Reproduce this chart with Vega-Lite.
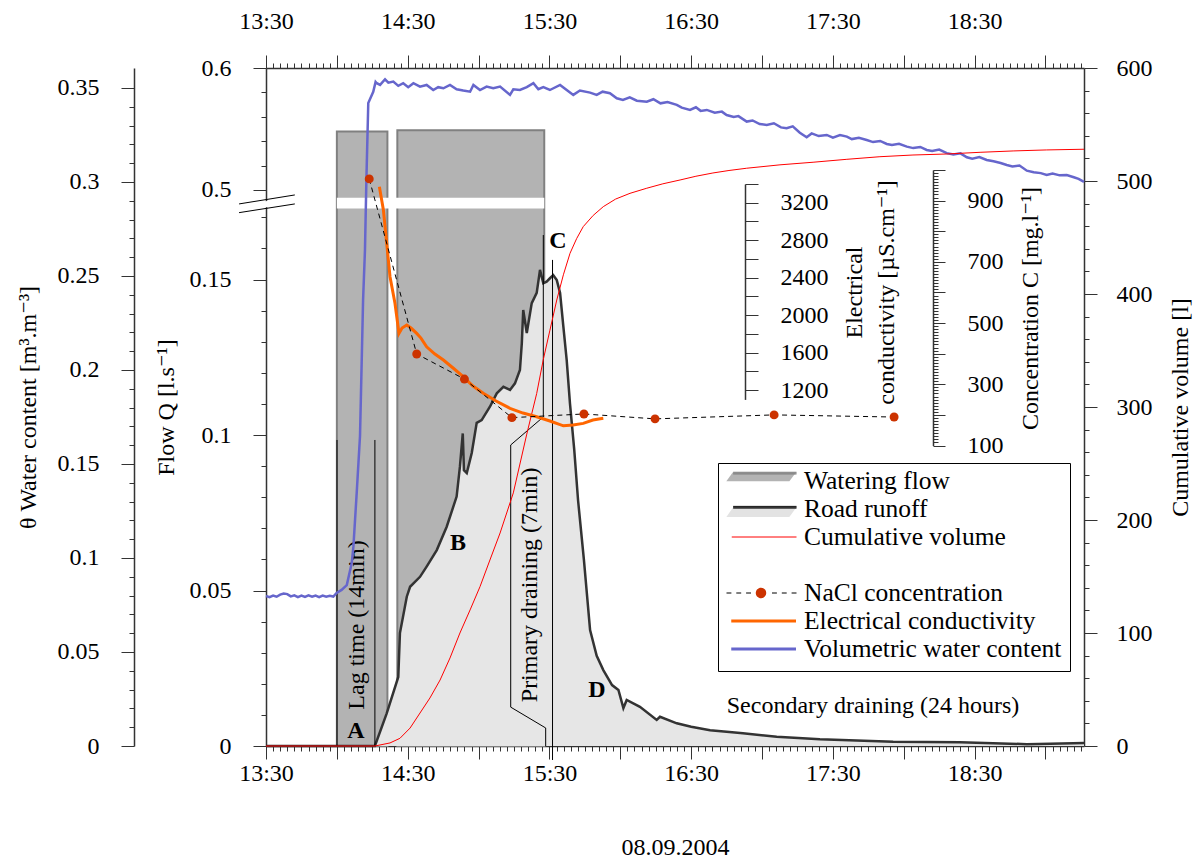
{
"$schema": "https://vega.github.io/schema/vega-lite/v6.json",
"width": 818, "height": 678,
"autosize": "none",
"padding": {"left": 266, "top": 68, "right": 116, "bottom": 115},
"background": "white",
"config": {
  "view": {"stroke": null},
  "axis": {"grid": false, "domainColor": "#333", "domainWidth": 1.5, "tickColor": "#333", "tickWidth": 1,
    "labelFont": "Liberation Serif, DejaVu Serif", "labelFontSize": 24, "labelColor": "#000",
    "titleFont": "Liberation Serif, DejaVu Serif", "titleFontSize": 24, "titleFontWeight": "normal", "titleColor": "#000",
    "labelOverlap": false, "labelFlush": false, "labelBound": false},
  "text": {"font": "Liberation Serif, DejaVu Serif", "fontSize": 24, "color": "#000"},
  "legend": {"labelFont": "Liberation Serif, DejaVu Serif", "labelFontSize": 25.5, "labelColor": "#000", "labelLimit": 0}
},
"resolve": {"scale": {"x": "independent", "y": "independent", "shape": "independent", "fill": "independent", "stroke": "independent"}},
"layer": [
{
  "encoding": {
    "x": {"field": "t", "type": "quantitative", "scale": {"domain": [0, 346.3], "nice": false, "zero": false},
      "axis": {"orient": "bottom",
        "values": [0,3,6,9,12,15,18,21,24,27,30,33,36,39,42,45,48,51,54,57,60,63,66,69,72,75,78,81,84,87,90,93,96,99,102,105,108,111,114,117,120,123,126,129,132,135,138,141,144,147,150,153,156,159,162,165,168,171,174,177,180,183,186,189,192,195,198,201,204,207,210,213,216,219,222,225,228,231,234,237,240,243,246,249,252,255,258,261,264,267,270,273,276,279,282,285,288,291,294,297,300,303,306,309,312,315,318,321,324,327,330,333,336,339,342,345],
        "tickSize": {"condition": {"test": "datum.value % 30 === 0", "value": 13}, "value": 5},
        "labelExpr": "datum.value % 60 === 0 ? ['13:30','14:30','15:30','16:30','17:30','18:30'][datum.value / 60] : ''",
        "labelPadding": 2, "title": "08.09.2004", "titlePadding": 50}},
    "y": {"field": "q", "type": "quantitative", "scale": {"domain": [0, 0.1746, 0.4893, 0.6], "range": [678, 135, 135, 0], "nice": false, "zero": false},
      "axis": {"orient": "left",
        "values": [0,0.01,0.02,0.03,0.04,0.05,0.06,0.07,0.08,0.09,0.1,0.11,0.12,0.13,0.14,0.15,0.16,0.17,0.5,0.52,0.54,0.56,0.58,0.6],
        "tickSize": {"condition": {"test": "indexof([0,0.05,0.1,0.15,0.5,0.6], datum.value) >= 0", "value": 13}, "value": 5},
        "labelExpr": "indexof([0,0.05,0.1,0.15,0.5,0.6], datum.value) >= 0 ? '' + datum.value : ''",
        "labelPadding": 22, "title": "Flow Q [l.s⁻¹]", "titleX": -100, "titleY": 339, "titleAngle": 270, "titleBaseline": "middle", "titleAlign": "center"}}
  },
  "layer": [
    {"data": {"values": [{"t": 30.0, "t2": 51.4, "q": 0.548, "q2": 0}, {"t": 55.6, "t2": 117.8, "q": 0.549, "q2": 0}]},
     "mark": {"type": "rect", "fill": "#b3b3b3", "stroke": "#808080", "strokeWidth": 2},
     "encoding": {"x2": {"field": "t2"}, "y2": {"field": "q2"}}},
    {"data": {"name": "runoff", "values": [
      {"t":0,"q":0},{"t":46.1,"q":0},{"t":51.1,"q":0.0105},{"t":56.0,"q":0.0222},{"t":56.7,"q":0.0363},{"t":59.6,"q":0.048},{"t":61.0,"q":0.0512},{"t":65.2,"q":0.0544},{"t":68.0,"q":0.0577},{"t":72.3,"q":0.063},{"t":76.5,"q":0.0705},{"t":80.7,"q":0.0802},{"t":82.1,"q":0.0898},{"t":83.3,"q":0.1005},{"t":83.8,"q":0.0887},{"t":85.0,"q":0.0878},{"t":87.1,"q":0.0942},{"t":89.2,"q":0.1039},{"t":91.3,"q":0.1048},{"t":94.8,"q":0.1091},{"t":97.7,"q":0.1134},{"t":100.5,"q":0.1155},{"t":103.3,"q":0.1145},{"t":105.4,"q":0.1166},{"t":107.5,"q":0.1209},{"t":108.3,"q":0.1295},{"t":108.9,"q":0.1402},{"t":110.4,"q":0.1328},{"t":112.5,"q":0.1424},{"t":114.6,"q":0.1457},{"t":116.0,"q":0.1531},{"t":117.4,"q":0.1488},{"t":118.8,"q":0.1493},{"t":120.2,"q":0.1504},{"t":121.6,"q":0.1514},{"t":123.1,"q":0.1498},{"t":124.5,"q":0.1457},{"t":125.9,"q":0.1348},{"t":127.3,"q":0.1241},{"t":128.7,"q":0.11},{"t":130.5,"q":0.0952},{"t":132.1,"q":0.0791},{"t":134.6,"q":0.0598},{"t":137.2,"q":0.0373},{"t":140.0,"q":0.029},{"t":142.8,"q":0.0244},{"t":146.5,"q":0.0196},{"t":149.2,"q":0.018},{"t":151.3,"q":0.0122},{"t":152.7,"q":0.0148},{"t":158.3,"q":0.0126},{"t":165.4,"q":0.0084},{"t":166.8,"q":0.0094},{"t":173.9,"q":0.0073},{"t":180,"q":0.0062},{"t":188.0,"q":0.0051},{"t":195,"q":0.0046},{"t":201.9,"q":0.0041},{"t":216.2,"q":0.003},{"t":234.5,"q":0.0022},{"t":250,"q":0.0018},{"t":265.5,"q":0.0014},{"t":293.8,"q":0.0012},{"t":322.1,"q":0.0006},{"t":341.8,"q":0.0009},{"t":346.3,"q":0.001}]},
     "mark": {"type": "area", "fill": "#e6e6e6"},
     "encoding": {"y2": {"datum": 0}}},
    {"data": {"values": [{"t": 30.0, "t2": 117.8, "q": 0.1728, "q2": 0.4937}]},
     "mark": {"type": "rect", "fill": "#ffffff"},
     "encoding": {"x2": {"field": "t2"}, "y2": {"field": "q2"}}},
    {"data": {"name": "runoff"},
     "mark": {"type": "line", "stroke": "#333333", "strokeWidth": 2.5},
     "encoding": {}},
    {"data": {"values": [{"t": 30.06, "q": 0, "q2": 0.0984}, {"t": 46.1, "q": 0, "q2": 0.0984}, {"t": 121.3, "q": -0.0045, "q2": 0.1563}]},
     "mark": {"type": "rule", "stroke": "#000", "strokeWidth": 1},
     "encoding": {"y2": {"field": "q2"}}},
    {"data": {"values": [{"t": 118.4, "q": 0, "i": 1}, {"t": 118.4, "q": 0.0058, "i": 2}, {"t": 103.6, "q": 0.0125, "i": 3}, {"t": 103.6, "q": 0.0968, "i": 4}, {"t": 117.4, "q": 0.1058, "i": 5}, {"t": 117.4, "q": 0.1643, "i": 6}]},
     "mark": {"type": "line", "stroke": "#000", "strokeWidth": 1},
     "encoding": {"order": {"field": "i", "type": "quantitative"}}},
    {"data": {"values": [{"t": -2.5, "q": 0.1739, "t2": 2.5, "q2": 0.1745}]},
     "mark": {"type": "rule", "stroke": "#ffffff", "strokeWidth": 6},
     "encoding": {"x2": {"field": "t2"}, "y2": {"field": "q2"}}},
    {"data": {"values": [{"t": -11.4, "q": 0.1743, "t2": 12.2, "q2": 0.4959}, {"t": -11.4, "q": 0.1715, "t2": 12.2, "q2": 0.1743}]},
     "mark": {"type": "rule", "stroke": "#000", "strokeWidth": 1},
     "encoding": {"x2": {"field": "t2"}, "y2": {"field": "q2"}}},
    {"data": {"values": [{"t": 257.0, "q": 0.0129, "label": "Secondary draining (24 hours)"}]},
     "mark": {"type": "text", "align": "center", "baseline": "middle", "fontSize": 24},
     "encoding": {"text": {"field": "label"}}},
    {"data": {"values": [{"t": 38.1, "q": 0.0048, "label": "A"}, {"t": 81.3, "q": 0.0653, "label": "B"}, {"t": 123.6, "q": 0.1624, "label": "C"}, {"t": 140.1, "q": 0.018, "label": "D"}]},
     "mark": {"type": "text", "align": "center", "baseline": "middle", "fontSize": 24, "fontWeight": "bold"},
     "encoding": {"text": {"field": "label"}}},
    {"data": {"values": [{"t": 38.6, "q": 0.0389, "label": "Lag time (14min)"}, {"t": 111.8, "q": 0.0518, "label": "Primary draining (7min)"}]},
     "mark": {"type": "text", "align": "center", "baseline": "middle", "fontSize": 24, "angle": 270},
     "encoding": {"text": {"field": "label"}}}
  ]
},
{
  "data": {"values": [
    {"t":0,"th":0.0798},{"t":1.5,"th":0.0792},{"t":3,"th":0.08},{"t":4.5,"th":0.0794},{"t":6,"th":0.0805},{"t":7.5,"th":0.0811},{"t":9,"th":0.0808},{"t":10.5,"th":0.0796},{"t":12,"th":0.0801},{"t":13.5,"th":0.0792},{"t":15,"th":0.08},{"t":16.5,"th":0.0793},{"t":18,"th":0.0801},{"t":19.5,"th":0.0794},{"t":21,"th":0.08},{"t":22.5,"th":0.0792},{"t":24,"th":0.08},{"t":25.5,"th":0.0794},{"t":27,"th":0.0799},{"t":28.5,"th":0.0795},{"t":29.9,"th":0.0814},{"t":32,"th":0.083},{"t":34.2,"th":0.0856},{"t":36.3,"th":0.0973},{"t":37.0,"th":0.106},{"t":38.4,"th":0.1346},{"t":39.8,"th":0.1649},{"t":41.1,"th":0.2372},{"t":41.9,"th":0.2638},{"t":42.5,"th":0.301},{"t":43.3,"th":0.342},{"t":45.4,"th":0.3479},{"t":46.4,"th":0.3532},{"t":46.9,"th":0.3525},{"t":48.3,"th":0.3516},{"t":50.4,"th":0.3546},{"t":51.8,"th":0.3528},{"t":53.9,"th":0.3534},{"t":56.0,"th":0.3511},{"t":58.1,"th":0.3525},{"t":60.2,"th":0.3504},{"t":62.4,"th":0.3525},{"t":65.2,"th":0.3507},{"t":68.0,"th":0.3516},{"t":70.8,"th":0.3489},{"t":72.9,"th":0.3504},{"t":75.1,"th":0.3498},{"t":77.9,"th":0.3516},{"t":80.7,"th":0.3493},{"t":83.5,"th":0.3486},{"t":86.4,"th":0.348},{"t":87.8,"th":0.3516},{"t":90.6,"th":0.3489},{"t":93.4,"th":0.3507},{"t":96.2,"th":0.3498},{"t":99.1,"th":0.3507},{"t":103.3,"th":0.3463},{"t":104.7,"th":0.3493},{"t":107.5,"th":0.3489},{"t":110.4,"th":0.3504},{"t":113.2,"th":0.3525},{"t":115.3,"th":0.3493},{"t":117.4,"th":0.3504},{"t":120.2,"th":0.3489},{"t":124.5,"th":0.3516},{"t":127.3,"th":0.3489},{"t":130.1,"th":0.3463},{"t":132.9,"th":0.3486},{"t":137.2,"th":0.3475},{"t":140.0,"th":0.3463},{"t":142.5,"th":0.348},{"t":145.6,"th":0.3472},{"t":148.5,"th":0.3445},{"t":151.1,"th":0.3436},{"t":154,"th":0.345},{"t":157,"th":0.3432},{"t":161.2,"th":0.3427},{"t":164,"th":0.344},{"t":167,"th":0.3418},{"t":170,"th":0.3425},{"t":173.9,"th":0.341},{"t":176,"th":0.3395},{"t":179.5,"th":0.3383},{"t":182,"th":0.3397},{"t":184,"th":0.3378},{"t":186.6,"th":0.3383},{"t":190,"th":0.3368},{"t":193,"th":0.3374},{"t":195.0,"th":0.3356},{"t":198,"th":0.3345},{"t":200,"th":0.335},{"t":203.5,"th":0.3321},{"t":206,"th":0.3327},{"t":209,"th":0.3308},{"t":212.0,"th":0.3303},{"t":215,"th":0.3312},{"t":218,"th":0.329},{"t":220.4,"th":0.3286},{"t":223,"th":0.3296},{"t":226,"th":0.3262},{"t":228.9,"th":0.3238},{"t":231,"th":0.3258},{"t":234,"th":0.3244},{"t":237.4,"th":0.325},{"t":240,"th":0.3236},{"t":243,"th":0.3249},{"t":245.9,"th":0.3241},{"t":248,"th":0.3228},{"t":251,"th":0.3235},{"t":254.3,"th":0.3223},{"t":257,"th":0.3212},{"t":260,"th":0.3218},{"t":262.8,"th":0.3202},{"t":265,"th":0.3196},{"t":268,"th":0.3203},{"t":271.3,"th":0.3188},{"t":274,"th":0.318},{"t":277,"th":0.3186},{"t":279.7,"th":0.317},{"t":282,"th":0.3165},{"t":285,"th":0.3172},{"t":288.2,"th":0.3153},{"t":291,"th":0.3146},{"t":294,"th":0.3152},{"t":296.7,"th":0.3131},{"t":299,"th":0.3124},{"t":302,"th":0.3132},{"t":305.1,"th":0.3117},{"t":308,"th":0.311},{"t":311,"th":0.3101},{"t":313.6,"th":0.309},{"t":316,"th":0.3082},{"t":319,"th":0.3087},{"t":322.1,"th":0.306},{"t":325,"th":0.3052},{"t":328,"th":0.3047},{"t":330.5,"th":0.3037},{"t":333,"th":0.3045},{"t":336,"th":0.3035},{"t":339.0,"th":0.3037},{"t":342,"th":0.3025},{"t":344,"th":0.3016},{"t":346.3,"th":0.3}]},
  "mark": {"type": "line", "stroke": "#6666cc", "strokeWidth": 2.5},
  "encoding": {
    "x": {"field": "t", "type": "quantitative", "scale": {"domain": [0, 346.3], "nice": false, "zero": false},
      "axis": {"orient": "top",
        "values": [0,3,6,9,12,15,18,21,24,27,30,33,36,39,42,45,48,51,54,57,60,63,66,69,72,75,78,81,84,87,90,93,96,99,102,105,108,111,114,117,120,123,126,129,132,135,138,141,144,147,150,153,156,159,162,165,168,171,174,177,180,183,186,189,192,195,198,201,204,207,210,213,216,219,222,225,228,231,234,237,240,243,246,249,252,255,258,261,264,267,270,273,276,279,282,285,288,291,294,297,300,303,306,309,312,315,318,321,324,327,330,333,336,339,342,345],
        "tickSize": {"condition": {"test": "datum.value % 30 === 0", "value": 13}, "value": 5},
        "labelExpr": "datum.value % 60 === 0 ? ['13:30','14:30','15:30','16:30','17:30','18:30'][datum.value / 60] : ''",
        "labelPadding": 22, "title": null}},
    "y": {"field": "th", "type": "quantitative", "scale": {"domain": [0, 0.3606], "nice": false, "zero": false},
      "axis": {"orient": "left", "offset": 132,
        "values": [0,0.01,0.02,0.03,0.04,0.05,0.06,0.07,0.08,0.09,0.1,0.11,0.12,0.13,0.14,0.15,0.16,0.17,0.18,0.19,0.2,0.21,0.22,0.23,0.24,0.25,0.26,0.27,0.28,0.29,0.3,0.31,0.32,0.33,0.34,0.35],
        "tickSize": {"condition": {"test": "indexof([0,0.05,0.1,0.15,0.2,0.25,0.3,0.35], datum.value) >= 0", "value": 13}, "value": 5},
        "labelExpr": "indexof([0,0.05,0.1,0.15,0.2,0.25,0.3,0.35], datum.value) >= 0 ? '' + datum.value : ''",
        "labelPadding": 22, "title": "θ Water content [m³.m⁻³]", "titleX": -106, "titleY": 339, "titleAngle": 270, "titleBaseline": "middle", "titleAlign": "center"}}
  }
},
{
  "data": {"values": [
    {"t":0,"v":0},{"t":46.1,"v":0},{"t":52.5,"v":2.7},{"t":56.7,"v":6.8},{"t":61.0,"v":15.9},{"t":65.2,"v":29.2},{"t":69.4,"v":42.5},{"t":73.7,"v":58.4},{"t":77.9,"v":77.9},{"t":82.1,"v":100},{"t":86.4,"v":120.4},{"t":90.6,"v":141},{"t":94.8,"v":164.6},{"t":99.1,"v":188.5},{"t":104.7,"v":224},{"t":110.4,"v":276},{"t":114.6,"v":312},{"t":117.4,"v":342},{"t":120.2,"v":368},{"t":123.1,"v":394.7},{"t":125.9,"v":417},{"t":128.7,"v":436},{"t":131.5,"v":449},{"t":134.3,"v":459.6},{"t":138.5,"v":469.5},{"t":142.8,"v":477.3},{"t":148,"v":484},{"t":154.1,"v":489.1},{"t":161.2,"v":493.6},{"t":168,"v":497.5},{"t":175.3,"v":500.9},{"t":182,"v":504.2},{"t":189.2,"v":507.1},{"t":196,"v":509.3},{"t":203.5,"v":511.3},{"t":217.6,"v":514.3},{"t":231.6,"v":516.6},{"t":245.9,"v":519.2},{"t":259.9,"v":521.5},{"t":273.9,"v":523},{"t":288.2,"v":523.9},{"t":302.3,"v":525.4},{"t":316.3,"v":526.6},{"t":330.5,"v":527.5},{"t":346.3,"v":528.1}]},
  "mark": {"type": "line", "stroke": "#ff0000", "strokeWidth": 1},
  "encoding": {
    "x": {"field": "t", "type": "quantitative", "scale": {"domain": [0, 346.3], "nice": false, "zero": false}, "axis": null},
    "y": {"field": "v", "type": "quantitative", "scale": {"domain": [0, 600], "nice": false, "zero": false},
      "axis": {"orient": "right",
        "values": [0,20,40,60,80,100,120,140,160,180,200,220,240,260,280,300,320,340,360,380,400,420,440,460,480,500,520,540,560,580,600],
        "tickSize": {"condition": {"test": "datum.value % 100 === 0", "value": 13}, "value": 5},
        "labelExpr": "datum.value % 100 === 0 ? '' + datum.value : ''",
        "labelPadding": 19, "title": "Cumulative volume [l]", "titleX": 96, "titleY": 339, "titleAngle": 270, "titleBaseline": "middle", "titleAlign": "center"}}
  }
},
{
  "data": {"values": [
    {"t":48.0,"ec":3371},{"t":49.7,"ec":3122},{"t":51.1,"ec":2766},{"t":52.5,"ec":2410},{"t":54.6,"ec":2126},{"t":56.3,"ec":1805},{"t":57.6,"ec":1862},{"t":59.6,"ec":1894},{"t":61.4,"ec":1862},{"t":63.8,"ec":1805},{"t":65.6,"ec":1755},{"t":68.0,"ec":1662},{"t":71.5,"ec":1584},{"t":75.1,"ec":1520},{"t":79.2,"ec":1435},{"t":83.5,"ec":1342},{"t":87.6,"ec":1243},{"t":92.0,"ec":1165},{"t":97.4,"ec":1083},{"t":103.3,"ec":1005},{"t":108.8,"ec":954},{"t":114.6,"ec":915},{"t":120.2,"ec":869},{"t":125.9,"ec":818},{"t":130.0,"ec":826},{"t":134.3,"ec":844},{"t":138.4,"ec":880},{"t":142.8,"ec":898}]},
  "mark": {"type": "line", "stroke": "#ff6600", "strokeWidth": 3},
  "encoding": {
    "x": {"field": "t", "type": "quantitative", "scale": {"domain": [0, 346.3], "nice": false, "zero": false}, "axis": null},
    "y": {"field": "ec", "type": "quantitative", "scale": {"domain": [1100, 3400], "range": [331.4, 116], "nice": false, "zero": false},
      "axis": {"orient": "right", "offset": -339,
        "values": [1200,1400,1600,1800,2000,2200,2400,2600,2800,3000,3200,3400],
        "tickSize": 13,
        "labelExpr": "datum.value % 400 === 0 ? '' + datum.value : ''",
        "labelPadding": 22, "title": ["Electrical", "conductivity [µS.cm⁻¹]"], "titleX": 109, "titleY": 224, "titleAngle": 270, "titleBaseline": "middle", "titleAlign": "center", "titleLineHeight": 32}}
  }
},
{
  "data": {"values": [{"t":43.7,"c":971},{"t":63.8,"c":399},{"t":84.0,"c":317},{"t":104.1,"c":191},{"t":134.6,"c":203},{"t":164.7,"c":187},{"t":215.1,"c":200},{"t":265.9,"c":193}]},
  "encoding": {
    "x": {"field": "t", "type": "quantitative", "scale": {"domain": [0, 346.3], "nice": false, "zero": false}, "axis": null},
    "y": {"field": "c", "type": "quantitative", "scale": {"domain": [100, 1000], "range": [377.5, 102], "nice": false, "zero": false},
      "axis": {"orient": "right", "offset": -151,
        "values": [100,110,120,130,140,150,160,170,180,190,200,210,220,230,240,250,260,270,280,290,300,310,320,330,340,350,360,370,380,390,400,410,420,430,440,450,460,470,480,490,500,510,520,530,540,550,560,570,580,590,600,610,620,630,640,650,660,670,680,690,700,710,720,730,740,750,760,770,780,790,800,810,820,830,840,850,860,870,880,890,900,910,920,930,940,950,960,970,980,990,1000],
        "tickSize": {"condition": {"test": "datum.value % 100 === 0", "value": 12}, "value": 5},
        "labelExpr": "datum.value % 200 === 100 ? '' + datum.value : ''",
        "labelPadding": 22, "title": "Concentration C [mg.l⁻¹]", "titleX": 97, "titleY": 240, "titleAngle": 270, "titleBaseline": "middle", "titleAlign": "center"}}
  },
  "layer": [
    {"mark": {"type": "line", "stroke": "#000", "strokeWidth": 1, "strokeDash": [5, 4]}},
    {"mark": {"type": "point", "filled": true, "fill": "#cc3300", "size": 80, "opacity": 1, "strokeWidth": 0}}
  ]
},
{
  "data": {"values": []},
  "mark": {"type": "point", "filled": true, "opacity": 1},
  "encoding": {
    "fill": {"field": "s", "type": "nominal",
      "scale": {"domain": ["Watering flow","Road runoff","Cumulative volume"," ","NaCl concentration","Electrical conductivity","Volumetric water content"],
        "range": ["#b3b3b3","#e3e3e3","#ffffff","#ffffff","#cc3300","#ff6600","#6666cc"]},
      "legend": {"orient": "none", "legendX": 452, "legendY": 395, "title": null, "symbolSize": 4900, "clipHeight": 20, "rowPadding": 2, "padding": 8, "labelOffset": 7, "labelOpacity": 0, "fillColor": "#ffffff", "symbolStrokeWidth": 0, "symbolOpacity": 1}},
    "shape": {"field": "s", "type": "nominal",
      "scale": {"domain": ["Watering flow","Road runoff","Cumulative volume"," ","NaCl concentration","Electrical conductivity","Volumetric water content"],
        "range": ["M-0.81,-0.24L1,-0.24L0.81,0.01L-0.99,0.01Z","M-0.81,-0.03L1,-0.03L0.81,0.23L-0.99,0.23Z","M0,0","M0,0","M-0.15,0A0.15,0.15,0,1,0,0.15,0A0.15,0.15,0,1,0,-0.15,0Z","M-0.85,-0.04L1,-0.04L1,0.04L-0.85,0.04Z","M-0.85,-0.04L1,-0.04L1,0.04L-0.85,0.04Z"]},
      "legend": {"orient": "none", "legendX": 452, "legendY": 395, "title": null, "symbolSize": 4900, "clipHeight": 20, "rowPadding": 2, "padding": 8, "labelOffset": 7, "labelOpacity": 0, "fillColor": "#ffffff", "symbolStrokeWidth": 0, "symbolOpacity": 1}}
  }
},
{
  "data": {"values": []},
  "mark": {"type": "point", "filled": false, "opacity": 1},
  "encoding": {
    "stroke": {"field": "s", "type": "nominal",
      "scale": {"domain": ["Watering flow","Road runoff","Cumulative volume"," ","NaCl concentration","Electrical conductivity","Volumetric water content"],
        "range": ["#808080","#111111","#ff0000","#ffffff","#000000","#ffffff","#ffffff"]},
      "legend": {"orient": "none", "legendX": 452, "legendY": 395, "title": null, "symbolSize": 4900, "clipHeight": 20, "rowPadding": 2, "padding": 8, "labelOffset": 7, "strokeColor": "#000000", "symbolOpacity": 1, "symbolStrokeWidth": 1}},
    "shape": {"field": "s", "type": "nominal",
      "scale": {"domain": ["Watering flow","Road runoff","Cumulative volume"," ","NaCl concentration","Electrical conductivity","Volumetric water content"],
        "range": ["M-0.81,-0.25L1,-0.25M-0.81,-0.225L1,-0.225M-0.81,-0.2L1,-0.2","M-0.81,-0.075L1,-0.075M-0.81,-0.05L1,-0.05M-0.81,-0.025L1,-0.025","M-0.85,0L1,0","M0,0","M-1,0L-0.86,0M-0.72,0L-0.58,0M-0.44,0L-0.3,0M0.3,0L0.44,0M0.58,0L0.72,0M0.86,0L1,0","M0,0","M0,0"]},
      "legend": {"orient": "none", "legendX": 452, "legendY": 395, "title": null, "symbolSize": 4900, "clipHeight": 20, "rowPadding": 2, "padding": 8, "labelOffset": 7, "strokeColor": "#000000", "symbolOpacity": 1, "symbolStrokeWidth": 1}}
  }
}
]
}
